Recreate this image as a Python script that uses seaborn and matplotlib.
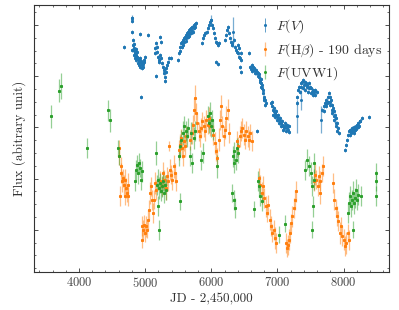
import matplotlib
matplotlib.use("Agg")
import matplotlib.pyplot as plt
import seaborn as sns
from matplotlib.ticker import MultipleLocator
from matplotlib.colors import to_rgba

# ---------------- data ----------------
# F(V)
v_jd = [4675, 4801, 4805, 4801, 4810, 4815, 4820, 4830, 4840, 4850, 4860, 4870, 4880, 4890, 4900, 4910, 4920, 4930, 4940, 4950, 4960, 4970, 4985, 4995, 4917, 5040, 4942,
        5144, 5155, 5165, 5175, 5185, 5195, 5205, 5215, 5220, 5240, 5230, 5245, 5255, 5265, 5280, 5290, 5300, 5295, 5310, 5320, 5335, 5350, 5365, 5396, 5169,
        5497, 5510, 5525, 5540, 5555, 5570, 5585, 5600, 5615, 5630, 5645, 5660, 5675, 5690, 5705, 5720, 5735, 5750, 5770, 5560, 5590, 5620, 5650, 5680, 5710, 5740,
        5855, 5870, 5890, 5910, 5930, 5950, 5965, 5985, 6000, 6010, 6020, 6035, 6050, 6065, 6080, 6095, 6120, 6076, 6102,
        6202, 6215, 6230, 6245, 6260, 6275, 6290, 6305, 6320, 6340, 6355, 6370, 6385, 6400, 6410, 6420, 6425, 6440, 6445, 6455, 6440, 6450, 6570, 6691,
        6590, 6610, 6630, 6650, 6670, 6690, 6705, 6720, 6735, 6750, 6765, 6780, 6795, 6810, 6825, 6600, 6640, 6680, 6715, 6745, 6760, 6775, 6800,
        6905, 6915, 6930, 6945, 6960, 6975, 6990, 7005, 7020, 7035, 7050, 7065, 7080, 7100, 7120, 7140, 7160, 7180, 6920, 6950, 6980, 7010, 7040, 7070, 7110, 7150,
        7290, 7300, 7315, 7330, 7350, 7370, 7390, 7410, 7430, 7450, 7470, 7490, 7510, 7530, 7550, 7570, 7590, 7340, 7380, 7420, 7460, 7500, 7540,
        7680, 7700, 7720, 7740, 7760, 7775, 7790, 7805, 7820, 7835, 7850, 7865, 7880, 7895, 7910, 7925, 7750, 7790, 7820, 7850, 7880, 7700, 7730,
        8017, 8030, 8045, 8060, 8080, 8100, 8120, 8140, 8160, 8180, 8200, 8220, 8240, 8250, 8270, 8380]
v_flux = [66.0, 74.5, 73.8, 70.5, 68.0, 66.5, 65.0, 65.5, 64.8, 64.0, 63.5, 64.5, 63.0, 62.5, 62.0, 61.5, 62.5, 61.0, 61.8, 60.5, 61.2, 60.8, 62.0, 63.0, 69.7, 69.5, 51.0,
          64.0, 65.5, 67.0, 66.0, 64.5, 63.0, 62.0, 61.5, 69.0, 67.5, 63.5, 62.5, 61.0, 60.0, 59.0, 58.0, 57.0, 55.8, 58.5, 59.5, 60.5, 61.5, 62.5, 62.5, 57.2,
          62.0, 64.0, 66.0, 67.0, 67.5, 68.0, 68.5, 69.0, 69.5, 70.0, 70.5, 71.0, 71.3, 71.5, 71.8, 72.0, 72.5, 72.8, 73.0, 66.0, 67.3, 68.5, 69.5, 70.2, 70.8, 71.5,
          67.0, 68.5, 69.5, 70.0, 70.5, 71.5, 72.5, 73.5, 74.0, 72.5, 71.5, 70.0, 68.5, 67.5, 67.0, 66.5, 67.0, 61.3, 60.8,
          68.0, 69.5, 71.0, 72.0, 70.0, 68.5, 67.5, 66.5, 67.0, 68.0, 66.0, 65.0, 64.5, 66.5, 64.0, 65.5, 63.0, 62.5, 64.0, 62.0, 60.0, 58.5, 64.0, 40.7,
          60.0, 60.5, 60.0, 59.5, 59.0, 58.5, 58.0, 57.0, 56.0, 55.0, 53.5, 52.0, 51.0, 50.0, 49.0, 59.2, 59.0, 58.0, 57.8, 56.2, 54.5, 53.0, 50.5,
          49.0, 48.0, 47.0, 46.5, 46.0, 45.5, 45.0, 44.5, 44.0, 43.5, 43.0, 42.5, 42.0, 41.5, 42.0, 41.5, 41.0, 42.0, 49.5, 47.5, 46.5, 45.5, 44.5, 43.5, 43.0, 42.5,
          49.0, 51.0, 53.0, 54.0, 55.0, 55.5, 56.0, 55.5, 55.0, 54.5, 55.0, 54.0, 53.5, 53.0, 52.5, 53.0, 52.5, 52.5, 53.5, 53.0, 52.5, 52.0, 51.5,
          47.0, 48.0, 49.0, 50.0, 51.0, 52.0, 51.0, 50.0, 48.5, 47.5, 46.5, 45.5, 44.5, 43.0, 41.5, 40.0, 49.0, 49.5, 47.0, 45.0, 43.0, 46.5, 48.0,
          35.0, 36.5, 38.0, 39.5, 40.5, 41.0, 41.5, 41.0, 41.8, 42.0, 42.5, 43.0, 43.5, 43.5, 44.5, 44.8]
# additional, more scattered F(V) points inside the dense clumps
v2_jd = [4805, 4825, 4845, 4865, 4885, 4905, 4925, 4945, 4965, 4975, 4835, 4855,
         5530, 5575, 5610, 5640, 5670, 5700, 5730, 5760,
         6620, 6660, 6700, 6730, 6755, 6790, 6815,
         6935, 6965, 6995, 7025, 7055, 7085, 7130, 7170,
         7360, 7400, 7440, 7480, 7520, 7560,
         7760, 7800, 7830, 7860, 7890, 7905,
         8090, 8110, 8130, 8150, 8170, 8190, 8210, 8230]
v2_flux = [65.0, 63.5, 62.5, 62.0, 61.0, 60.5, 60.0, 59.5, 59.8, 61.5, 66.8, 65.2,
           64.8, 66.5, 67.8, 68.8, 69.3, 70.0, 70.5, 71.8,
           58.8, 58.2, 57.2, 55.5, 53.8, 50.0, 48.5,
           45.5, 44.8, 44.0, 43.0, 42.0, 41.0, 40.5, 40.3,
           54.0, 54.5, 54.0, 53.5, 52.5, 51.5,
           49.5, 48.5, 46.0, 44.0, 42.0, 40.5,
           39.5, 40.0, 40.5, 40.0, 41.0, 41.2, 41.8, 42.0]
v_err = 0.6
# F(V) points with large error bars
vbig_jd = [4801, 6000, 6328, 7300, 7360, 7664]
vbig_flux = [74.5, 74.0, 70.5, 45.0, 50.0, 44.0]
vbig_err = [1.0, 1.5, 4.5, 5.0, 3.0, 4.0]

# F(Hbeta) shifted by -190 days
hb_jd = [4600, 4605, 4615, 4630, 4640, 4645, 4660, 4675, 4690, 4690, 4705, 4720, 4735, 4745,
         4948, 4958, 4973, 4988, 5003, 5018, 5033, 5048,
         5058, 5074, 5089, 5104, 5119, 5134, 5149, 5164,
         5230, 5250, 5270, 5290, 5310, 5331, 5351, 5371, 5391, 5411, 5431, 5452, 5472, 5361,
         5507, 5522, 5537, 5552, 5567, 5583, 5603, 5623,
         5683, 5704, 5724, 5744, 5759, 5774, 5789, 5809, 5824, 5845, 5865, 5885, 5905, 5925, 5945, 5966, 5986,
         6031, 6051, 6071, 6092, 6112, 6132, 6147, 6167, 6187, 6208, 6228, 6248, 6268,
         6389, 6409, 6429, 6449, 6470, 6490, 6510, 6530, 6550, 6570, 6590, 6611,
         6722, 6742, 6762, 6782, 6802, 6822, 6843, 6863, 6883, 6903, 6923, 6943, 6964, 6984,
         7125, 7140, 7155, 7170, 7185, 7205, 7226, 7246, 7266, 7286,
         7548, 7568, 7588, 7608, 7629, 7649, 7669, 7689, 7639,
         7840, 7861, 7881, 7901, 7921, 7941, 7961, 7982, 8002, 8022, 8042, 8062, 8082]
hb_flux = [35.5, 33.0, 21.0, 28.0, 30.0, 25.5, 26.5, 24.5, 26.0, 21.0, 23.5, 22.0, 24.5, 21.0,
           12.0, 8.0, 11.0, 12.5, 10.0, 12.0, 11.0, 14.0,
           17.0, 22.0, 24.0, 20.0, 16.0, 20.0, 25.0, 23.0,
           25.5, 24.0, 28.0, 26.0, 23.5, 27.0, 25.5, 29.0, 27.5, 26.0, 30.0, 28.0, 25.5, 36.2,
           35.0, 36.5, 38.5, 35.5, 33.0, 37.5, 36.0, 39.0,
           38.0, 40.0, 42.5, 47.0, 50.5, 46.0, 43.0, 40.5, 39.0, 41.5, 43.5, 42.0, 40.5, 44.0, 42.5, 44.5, 42.0,
           39.5, 37.0, 34.5, 32.5, 38.0, 44.0, 48.0, 42.0, 39.0, 41.0, 44.5, 47.0, 40.0,
           37.5, 36.0, 39.0, 40.5, 41.5, 39.5, 38.0, 40.5, 39.0, 38.0, 40.0, 37.5,
           26.5, 24.5, 22.0, 24.0, 20.5, 18.0, 16.0, 18.5, 14.0, 12.0, 10.0, 11.0, 8.5, 7.0,
           7.0, 5.5, 6.5, 8.0, 10.0, 13.0, 15.0, 17.5, 20.0, 22.5,
           25.5, 27.5, 26.0, 24.0, 27.0, 25.5, 28.0, 30.0, 22.0,
           25.0, 20.0, 17.5, 15.0, 13.5, 10.0, 12.0, 9.0, 8.0, 6.0, 7.0, 10.0, 8.0]
hb_err = [2.5, 2.5, 3.0, 3.0, 2.8, 3.2, 2.8, 3.0, 3.2, 2.5, 3.0, 2.8, 3.5, 2.8,
          3.0, 2.5, 2.8, 3.0, 2.8, 3.2, 2.6, 3.0,
          3.0, 3.2, 2.8, 3.0, 3.0, 2.8, 3.2, 3.0,
          3.0, 2.8, 3.2, 3.0, 3.5, 2.8, 3.0, 3.2, 2.8, 3.0, 3.5, 3.0, 2.8, 1.5,
          3.0, 3.2, 2.8, 3.0, 3.0, 2.8, 3.2, 3.0,
          3.0, 3.2, 3.0, 3.5, 4.0, 3.2, 3.0, 2.8, 3.2, 3.0, 2.8, 3.2, 3.0, 3.0, 2.8, 3.2, 3.0,
          3.0, 3.2, 2.8, 3.0, 3.5, 3.0, 3.5, 3.2, 3.0, 2.8, 3.5, 3.2, 3.0,
          3.0, 2.8, 3.2, 3.0, 3.0, 3.2, 2.8, 3.0, 3.2, 3.0, 2.8, 3.0,
          3.0, 2.8, 3.2, 3.0, 3.0, 3.2, 2.8, 3.0, 3.2, 3.0, 2.8, 3.0, 3.2, 3.0,
          3.0, 2.8, 3.0, 3.2, 3.0, 2.8, 3.2, 3.0, 3.0, 3.2,
          3.0, 3.2, 2.8, 3.0, 3.2, 3.0, 2.8, 3.0, 3.2,
          3.0, 3.2, 2.8, 3.0, 3.0, 3.2, 2.8, 3.0, 3.2, 3.0, 3.2, 2.8, 3.0]

# F(UVW1)
uv_jd = [3572, 3698, 3723, 4116, 4444, 4469, 4595, 4605,
         4842, 4857, 4872, 4887, 4902, 4917, 4937, 4958,
         5169, 5179, 5194, 5199, 5204, 5209, 5224, 5240, 5255, 5270, 5285, 5300, 5315, 5532,
         5512, 5522, 5547, 5572, 5593, 5613, 5633, 5653, 5673, 5694, 5714, 5734, 5754, 5850, 5875,
         5950, 5966, 5981, 5996, 6011, 6026, 6092,
         6313, 6338, 6354, 6328, 6344, 6349, 6369, 6389, 6409, 6646,
         6701, 6722, 6742, 6762, 7024, 7120,
         7422, 7447, 7478, 7508, 7523, 7528, 7538, 7548, 7558,
         8067, 8082, 8098, 8113, 8128, 8143, 8143, 8158, 8173, 8188, 8203, 8218, 8269,
         8496, 8496, 8496]
uv_flux = [45.0, 52.8, 54.2, 35.5, 46.8, 43.8, 35.5, 33.0,
           25.5, 29.0, 30.5, 28.0, 31.0, 29.5, 26.0, 28.5,
           34.0, 24.5, 26.0, 18.0, 11.0, 23.5, 25.0, 22.5, 24.0, 25.5, 22.0, 24.5, 23.0, 19.5,
           33.0, 36.0, 38.0, 40.0, 42.0, 40.5, 39.0, 41.5, 33.0, 40.0, 31.0, 38.5, 40.5, 32.0, 34.0,
           45.0, 43.0, 46.0, 42.0, 44.0, 41.0, 30.0,
           22.0, 20.0, 17.5, 33.0, 31.0, 34.5, 32.0, 35.5, 34.0, 17.2,
           25.5, 24.0, 21.0, 19.5, 9.5, 12.8,
           29.0, 32.0, 30.0, 28.0, 11.0, 24.0, 18.0, 31.0, 26.0,
           16.0, 19.0, 21.0, 18.0, 20.0, 22.0, 11.0, 19.0, 20.5, 23.0, 20.0, 21.5, 21.0,
           28.0, 25.5, 21.2]
uv_err = [3.5, 3.5, 3.8, 3.0, 3.3, 3.5, 2.5, 2.5,
          3.0, 3.0, 2.8, 3.2, 3.0, 2.8, 3.0, 3.2,
          3.5, 3.0, 3.2, 3.0, 3.0, 3.2, 3.0, 2.8, 3.2, 3.0, 3.0, 2.8, 3.2, 2.5,
          3.0, 3.2, 3.0, 3.5, 3.2, 3.0, 3.2, 3.0, 3.0, 3.2, 3.0, 3.2, 3.0, 3.0, 3.0,
          3.2, 3.0, 3.5, 3.2, 3.0, 3.2, 3.5,
          2.8, 3.0, 3.0, 3.2, 3.0, 2.8, 3.2, 3.0, 3.0, 2.5,
          3.0, 3.2, 3.0, 2.8, 2.5, 2.5,
          3.0, 3.2, 3.0, 3.2, 2.5, 3.0, 3.2, 3.0, 3.2,
          3.0, 3.2, 3.0, 3.2, 3.0, 3.5, 2.5, 3.2, 3.0, 3.2, 3.0, 3.2, 3.0,
          3.0, 3.0, 3.0]

labels = [r"$F(V)$", r"$F(\mathrm{H}\beta)$ - 190 days", r"$F(\mathrm{UVW1})$"]
colors = ["#1f77b4", "#ff7f0e", "#2ca02c"]

# ---------------- style ----------------
sns.set_theme(style="ticks")
plt.rcParams.update({
    "font.family": "serif",
    "font.serif": ["cmr10", "DejaVu Serif"],
    "mathtext.fontset": "cm",
    "axes.formatter.use_mathtext": True,
    "font.size": 9,
    "axes.edgecolor": "#333333",
    "axes.linewidth": 0.8,
    "xtick.direction": "in", "ytick.direction": "in",
    "xtick.top": True, "ytick.right": True,
    "xtick.major.size": 2.6, "ytick.major.size": 2.6,
    "xtick.minor.size": 1.4, "ytick.minor.size": 1.4,
    "xtick.major.width": 0.6, "ytick.major.width": 0.6,
    "xtick.minor.width": 0.5, "ytick.minor.width": 0.5,
    "xtick.color": "#333333", "ytick.color": "#333333",
})

fig = plt.figure(figsize=(3.99, 3.10), dpi=100)
ax = fig.add_axes([0.0852, 0.1226, 0.8897, 0.8604])

all_v_jd = v_jd + v2_jd
all_v_flux = v_flux + v2_flux

# V band
ax.errorbar(all_v_jd, all_v_flux, yerr=v_err, fmt="o", ms=2.2, mew=0, color=colors[0],
            ecolor=to_rgba(colors[0], 0.7), elinewidth=0.7, capsize=0.8, capthick=0.5,
            label=labels[0], zorder=2)
ax.errorbar(vbig_jd, vbig_flux, yerr=vbig_err, fmt="o", ms=2.2, mew=0, color=colors[0],
            ecolor=to_rgba(colors[0], 0.6), elinewidth=0.9, capsize=0.8, capthick=0.5, zorder=2)
sns.scatterplot(x=all_v_jd, y=all_v_flux, color=colors[0], s=5, linewidth=0, ax=ax, legend=False, zorder=3)

# Hbeta
ax.errorbar(hb_jd, hb_flux, yerr=hb_err, fmt="o", ms=2.2, mew=0, color=colors[1],
            ecolor=to_rgba(colors[1], 0.5), elinewidth=0.9, capsize=0.9, capthick=0.5,
            label=labels[1], zorder=2)
sns.scatterplot(x=hb_jd, y=hb_flux, color=colors[1], s=5, linewidth=0, ax=ax, legend=False, zorder=3)

# UVW1
ax.errorbar(uv_jd, uv_flux, yerr=uv_err, fmt="o", ms=2.2, mew=0, color=colors[2],
            ecolor=to_rgba(colors[2], 0.5), elinewidth=0.9, capsize=0.9, capthick=0.5,
            label=labels[2], zorder=2)
sns.scatterplot(x=uv_jd, y=uv_flux, color=colors[2], s=5, linewidth=0, ax=ax, legend=False, zorder=4)

ax.set_xlim(3320, 8685)
ax.set_ylim(-1.7, 78.4)
ax.xaxis.set_major_locator(MultipleLocator(1000))
ax.xaxis.set_minor_locator(MultipleLocator(200))
ax.yaxis.set_major_locator(MultipleLocator(15.375, offset=11.0))
ax.yaxis.set_minor_locator(MultipleLocator(15.375 / 4, offset=11.0))
ax.tick_params(axis="y", which="both", labelleft=False)
ax.tick_params(axis="x", which="major", labelsize=9, pad=3, colors="#333333", labelcolor="#444444")

ax.set_xlabel("JD - 2,450,000", fontsize=9.5, color="#333333", labelpad=2)
ax.set_ylabel("Flux (abitrary unit)", fontsize=9.5, color="#333333", labelpad=6)

leg = ax.legend(loc="upper right", frameon=False, fontsize=10, handlelength=0.6,
                handletextpad=0.5, labelspacing=0.4, borderaxespad=0.4,
                bbox_to_anchor=(1.012, 0.995))
for t in leg.get_texts():
    t.set_color("#333333")

fig.savefig("out.png", dpi=100)
